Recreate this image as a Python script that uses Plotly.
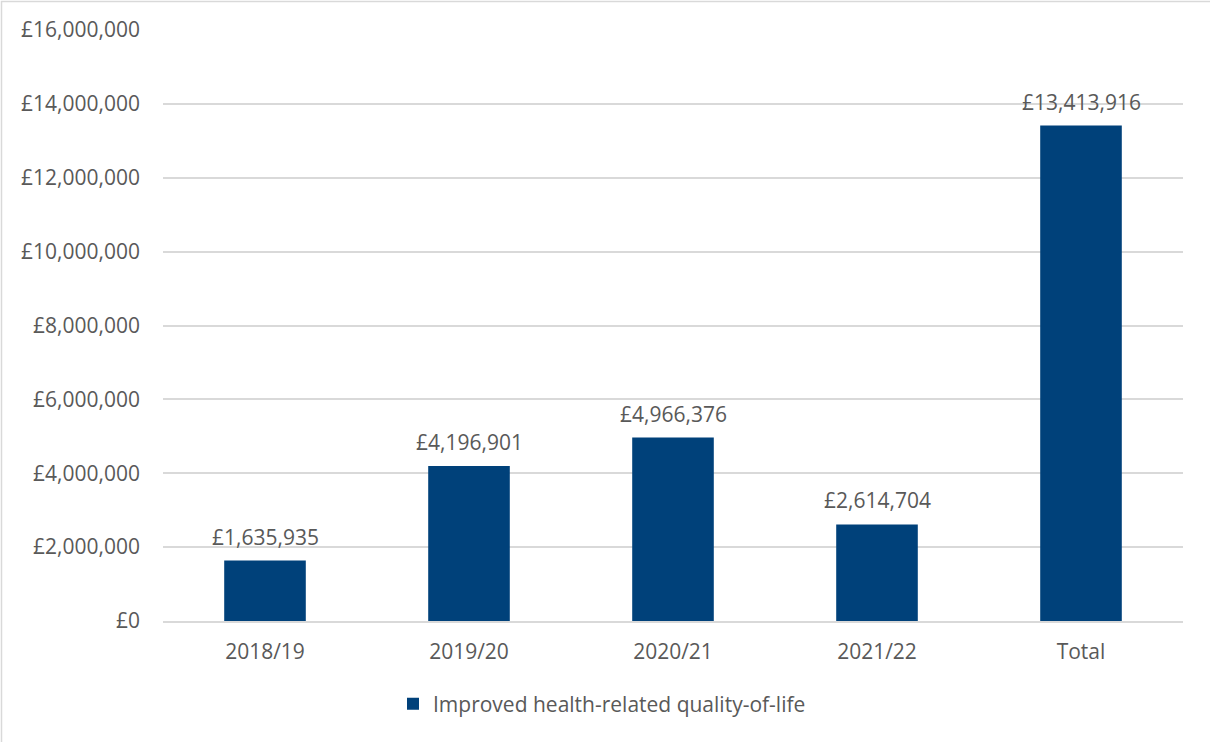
import plotly.graph_objects as go

# Values of improved health-related quality-of-life by year
categories = ["2018/19", "2019/20", "2020/21", "2021/22", "Total"]
values = [1635935, 4196901, 4966376, 2614704, 13413916]
series_name = "Improved health-related quality-of-life"
tick_values = [0, 2000000, 4000000, 6000000, 8000000, 10000000, 12000000, 14000000, 16000000]
tick_labels = ["£0", "£2,000,000", "£4,000,000", "£6,000,000", "£8,000,000",
               "£10,000,000", "£12,000,000", "£14,000,000", "£16,000,000"]

W, H = 1210, 742
L, R, T, B = 163, 27, 30, 121
pw, ph = W - L - R, H - T - B

BAR = "#00417a"
TXT = "#595959"
GRID = "#d9d9d9"
FONT = "Open Sans"
FS = 21

fig = go.Figure()
fig.add_trace(go.Bar(
    x=categories, y=values, name=series_name,
    marker=dict(color=BAR, line=dict(width=0)),
    width=0.4,
    hoverinfo="skip",
))

# value labels above each bar
for c, v in zip(categories, values):
    fig.add_annotation(
        x=c, y=v, text=f"£{v:,}", showarrow=False,
        yanchor="bottom", yshift=8,
        font=dict(family=FONT, size=FS, color=TXT),
    )

# chart border (top and left edges visible)
fig.add_shape(
    type="rect", xref="paper", yref="paper",
    x0=(1.5 - L) / pw, x1=(W + 10 - L) / pw,
    y0=-(H + 10 - T - ph) / ph, y1=1 + (T - 1.5) / ph,
    line=dict(color=GRID, width=1.5), layer="below",
)

fig.update_layout(
    width=W, height=H,
    margin=dict(l=L, r=R, t=T, b=B),
    paper_bgcolor="white", plot_bgcolor="white",
    font=dict(family=FONT, size=FS, color=TXT),
    bargap=0.6,
    showlegend=True,
    legend=dict(
        orientation="h", x=(393 - L) / pw, xanchor="left",
        y=-(704 - (T + ph)) / ph, yanchor="middle",
        font=dict(family=FONT, size=FS, color=TXT),
        itemwidth=30,
    ),
    xaxis=dict(
        showgrid=False, showline=True, linecolor=GRID, linewidth=1.5,
        ticks="", tickfont=dict(family=FONT, size=FS, color=TXT),
        ticklabelstandoff=11,
    ),
    yaxis=dict(
        range=[0, 16000000], tickvals=tick_values, ticktext=tick_labels,
        showgrid=True, gridcolor=GRID, gridwidth=1.5,
        zeroline=False, showline=False, ticks="",
        tickfont=dict(family=FONT, size=FS, color=TXT),
        ticklabelstandoff=22,
    ),
)

fig.write_html("out.html")
